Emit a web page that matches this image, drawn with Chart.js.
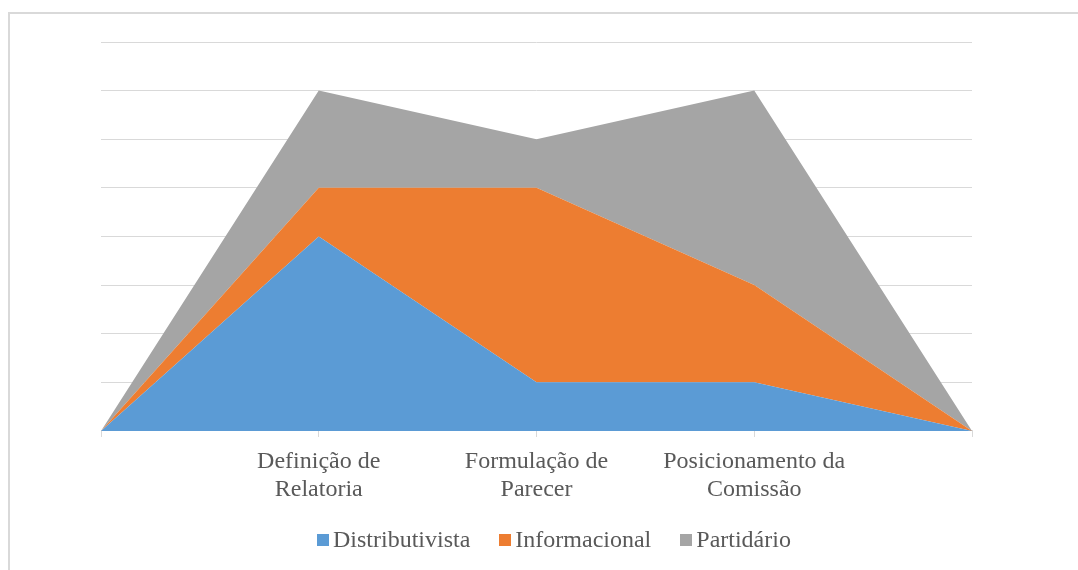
<!DOCTYPE html>
<html>
<head>
<meta charset="utf-8">
<script src="https://cdn.jsdelivr.net/npm/chart.js@4"></script>
<style>
  html, body { margin: 0; padding: 0; background: #ffffff; width: 1078px; height: 570px; overflow: hidden; }
  #frame { position: absolute; left: 8px; top: 12px; width: 1200px; height: 700px; border: 2px solid #d9d9d9; box-sizing: border-box; }
  #wrap { position: absolute; left: 0; top: 0; width: 1078px; height: 570px; }
  #legend { position: absolute; left: 317px; top: 526px; display: flex; align-items: center; font-family: "Liberation Serif", "Times New Roman", serif; font-size: 24px; color: #595959; white-space: nowrap; }
  .item { display: flex; align-items: center; margin-right: 29px; }
  .box { width: 12px; height: 12px; margin-right: 4px; }
</style>
</head>
<body>
<div id="frame"></div>
<div id="wrap"><canvas id="c" width="1078" height="570"></canvas></div>
<div id="legend"></div>
<script>
const categories = ["", ["Definição de", "Relatoria"], ["Formulação de", "Parecer"], ["Posicionamento da", "Comissão"], ""];
const seriesNames = ["Distributivista", "Informacional", "Partidário"];
const distributivista = [0, 4, 1, 1, 0];
const informacional = [0, 1, 4, 2, 0];
const partidario = [0, 2, 1, 4, 0];
const colors = ["#5B9BD5", "#ED7D31", "#A5A5A5"];
const yMax = 8;

const seriesData = [distributivista, informacional, partidario];
const datasets = seriesData.map((d, i) => ({
  label: seriesNames[i],
  data: d,
  backgroundColor: colors[i],
  borderColor: colors[i],
  borderWidth: 0,
  pointRadius: 0,
  tension: 0,
  fill: i === 0 ? 'origin' : '-1'
}));

new Chart(document.getElementById('c'), {
  type: 'line',
  data: { labels: categories, datasets },
  options: {
    responsive: false,
    animation: false,
    layout: { padding: { left: 101, right: 106, top: 42, bottom: 55 } },
    plugins: { legend: { display: false }, tooltip: { enabled: false } },
    scales: {
      x: {
        offset: false,
        grid: { drawOnChartArea: false, drawTicks: true, tickLength: 6, color: '#d9d9d9' },
        border: { display: true, color: '#d9d9d9', width: 1 },
        ticks: { color: '#595959', padding: 11, maxRotation: 0, autoSkip: false,
                 font: { family: '"Liberation Serif", "Times New Roman", serif', size: 24, lineHeight: 1.167 } }
      },
      y: {
        stacked: true,
        min: 0, max: yMax,
        ticks: { display: false, stepSize: 1 },
        grid: { color: '#d9d9d9', drawTicks: false, lineWidth: 1 },
        border: { display: false }
      }
    }
  }
});

const legend = document.getElementById('legend');
seriesNames.forEach((n, i) => {
  const it = document.createElement('div');
  it.className = 'item';
  const b = document.createElement('div');
  b.className = 'box';
  b.style.background = colors[i];
  const t = document.createElement('span');
  t.textContent = n;
  it.appendChild(b); it.appendChild(t);
  legend.appendChild(it);
});
</script>
</body>
</html>
